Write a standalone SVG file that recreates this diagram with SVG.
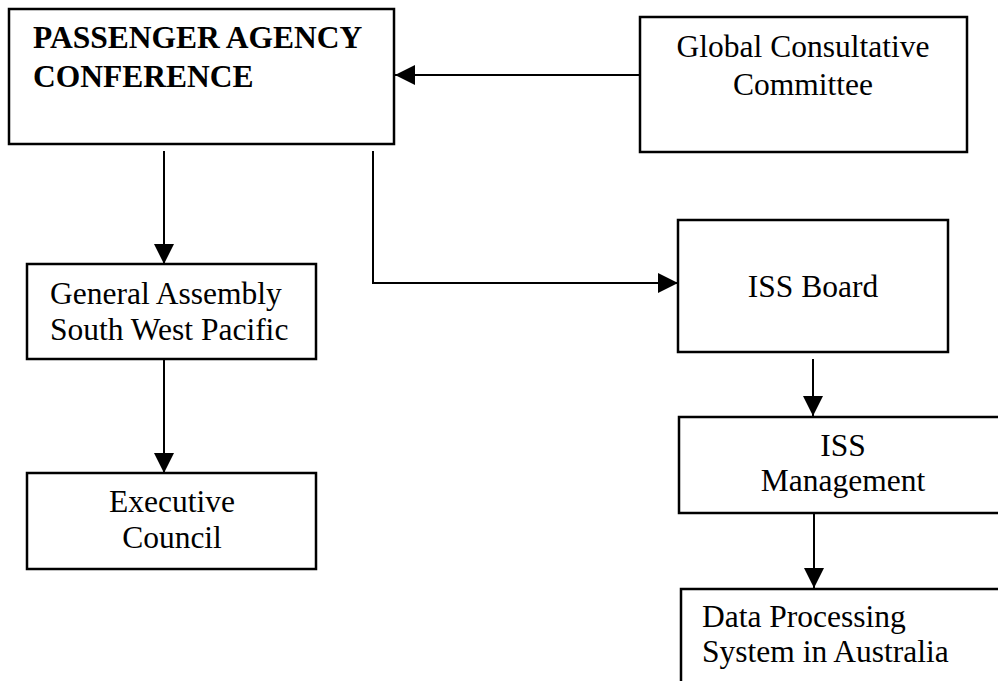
<svg xmlns="http://www.w3.org/2000/svg" width="998" height="681" viewBox="0 0 998 681">
<style>
.box{fill:#fff;stroke:#000;stroke-width:2.5}
.t{font-family:"Liberation Serif","Times New Roman",serif;font-size:31.5px;fill:#000}
.b{font-weight:bold}
.c{text-anchor:middle}
.ln{fill:none;stroke:#000;stroke-width:2}
</style>
<defs>
<marker id="ah" markerUnits="userSpaceOnUse" markerWidth="20" markerHeight="20" refX="20" refY="10" orient="auto">
<path d="M0,0 L20,10 L0,20 z" fill="#000"/>
</marker>
</defs>
<rect width="998" height="681" fill="#fff"/>
<g id="pac">
<rect class="box" x="9" y="9" width="385" height="135"/>
<text class="t b" x="33" y="48">PASSENGER AGENCY</text>
<text class="t b" x="33" y="87">CONFERENCE</text>
</g>
<g id="gcc">
<rect class="box" x="640" y="17" width="327" height="135"/>
<text class="t c" x="803" y="57">Global Consultative</text>
<text class="t c" x="803" y="95">Committee</text>
</g>
<g id="ga">
<rect class="box" x="27" y="264" width="289" height="95"/>
<text class="t" x="50" y="304">General Assembly</text>
<text class="t" x="50" y="340">South West Pacific</text>
</g>
<g id="ec">
<rect class="box" x="27" y="473" width="289" height="96"/>
<text class="t c" x="172" y="512">Executive</text>
<text class="t c" x="172" y="548">Council</text>
</g>
<g id="issb">
<rect class="box" x="678" y="220" width="270" height="132"/>
<text class="t c" x="813" y="297">ISS Board</text>
</g>
<g id="issm">
<rect class="box" x="679" y="417" width="340" height="96"/>
<text class="t c" x="843" y="456">ISS</text>
<text class="t c" x="843" y="491">Management</text>
</g>
<g id="dps">
<rect class="box" x="681" y="589" width="340" height="100"/>
<text class="t" x="702" y="627">Data Processing</text>
<text class="t" x="702" y="662">System in Australia</text>
</g>
<g id="connectors">
<path class="ln" d="M640,75 H395" marker-end="url(#ah)"/>
<path class="ln" d="M164,151 V264" marker-end="url(#ah)"/>
<path class="ln" d="M373,151 V283 H678" marker-end="url(#ah)"/>
<path class="ln" d="M164,359 V473" marker-end="url(#ah)"/>
<path class="ln" d="M813,359 V416" marker-end="url(#ah)"/>
<path class="ln" d="M814,513 V588" marker-end="url(#ah)"/>
</g>
</svg>
